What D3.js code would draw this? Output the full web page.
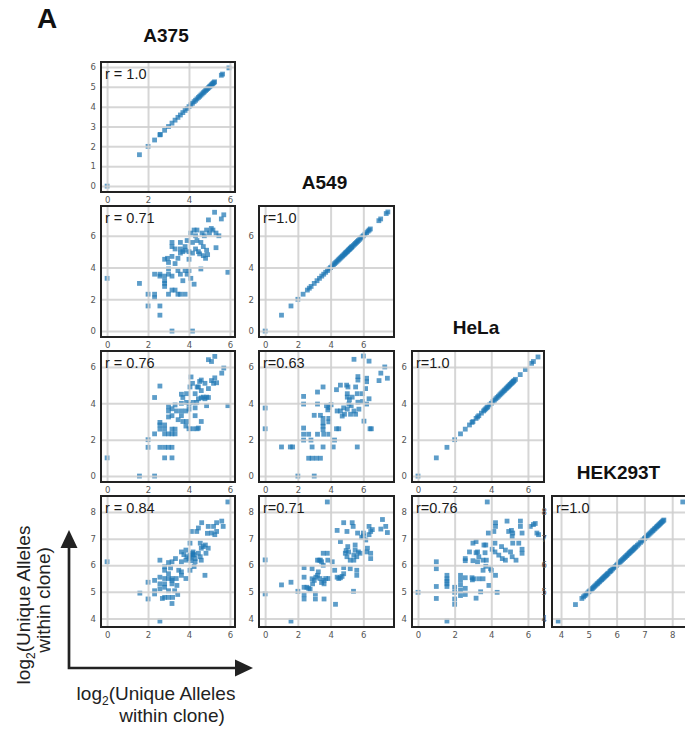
<!DOCTYPE html>
<html><head><meta charset="utf-8">
<script src="https://cdn.jsdelivr.net/npm/d3@7"></script>
<style>body{margin:0;background:#fff} svg{display:block}</style>
</head><body><svg id="c" width="685" height="731"></svg>
<script>
// ---------------- DATA ----------------
const cellLines = ["A375", "A549", "HeLa", "HEK293T"];

// diagonal panels: each clone plotted against itself (log2 unique alleles)
const diag_A375 = [0, 1.58, 2.0, 2.32, 2.58, 2.6, 2.81, 3.0, 3.17, 3.32, 3.46, 3.58, 3.7, 3.81, 3.91, 4.0, 4.09, 4.17, 4.25, 4.32, 4.39, 4.46, 4.52, 4.58, 4.64, 4.7, 4.75, 4.81, 4.86, 4.91, 4.95, 5.0, 5.04, 5.09, 5.13, 5.17, 5.21, 5.25, 5.58, 5.64, 5.95];
const diag_A549 = [0, 1.0, 1.58, 2.0, 2.32, 2.58, 2.7, 2.81, 3.0, 3.17, 3.32, 3.46, 3.58, 3.7, 3.81, 3.91, 4.0, 4.09, 4.17, 4.25, 4.32, 4.39, 4.46, 4.52, 4.58, 4.64, 4.7, 4.75, 4.81, 4.86, 4.91, 4.95, 5.0, 5.04, 5.09, 5.13, 5.17, 5.21, 5.25, 5.29, 5.32, 5.39, 5.46, 5.52, 5.58, 5.64, 5.7, 5.78, 5.86, 5.93, 6.0, 6.1, 6.2, 6.29, 6.36, 6.43, 6.95, 7.06, 7.4, 7.5];
const diag_HeLa = [0, 1.0, 1.58, 2.0, 2.32, 2.58, 2.81, 2.95, 3.0, 3.17, 3.25, 3.32, 3.46, 3.58, 3.64, 3.7, 3.76, 3.81, 3.91, 4.0, 4.09, 4.17, 4.25, 4.32, 4.39, 4.46, 4.52, 4.58, 4.64, 4.7, 4.75, 4.81, 4.86, 4.91, 4.95, 5.0, 5.04, 5.09, 5.13, 5.17, 5.21, 5.25, 5.32, 5.58, 5.86, 6.2, 6.3, 6.55];
const diag_HEK = [3.9, 4.52, 4.75, 4.81, 4.86, 4.91, 4.95, 5.0, 5.04, 5.09, 5.13, 5.17, 5.21, 5.25, 5.29, 5.32, 5.36, 5.39, 5.43, 5.46, 5.49, 5.52, 5.55, 5.58, 5.61, 5.64, 5.67, 5.7, 5.75, 5.78, 5.81, 5.86, 5.91, 5.95, 6.0, 6.04, 6.09, 6.13, 6.17, 6.21, 6.25, 6.29, 6.32, 6.36, 6.39, 6.43, 6.46, 6.49, 6.52, 6.55, 6.58, 6.61, 6.64, 6.67, 6.7, 6.75, 6.8, 6.86, 6.91, 6.95, 7.0, 7.04, 7.09, 7.13, 7.17, 7.21, 7.25, 7.29, 7.32, 7.36, 7.39, 7.43, 7.46, 7.49, 7.52, 7.55, 7.58, 7.61, 7.64, 7.67, 7.7, 8.38];

// off-diagonal panels: [x (column line), y (row line)]
const pts_A549_vs_A375 = [[0,3.32],[1.58,3.0],[2,2.32],[2,1.58],[2.32,2.32],[2.32,2.1],[2.32,3.58],[2.58,1.58],[2.58,1.0],[2.58,3.46],[2.58,3.58],[2.81,3.46],[2.81,3.0],[2.81,2.81],[2.81,3.17],[2.81,4.52],[2.95,4.58],[3.0,2.32],[3.0,3.58],[3.0,3.91],[3.0,4.32],[3.17,4.7],[3.17,5.58],[3.17,5.32],[3.17,3.46],[3.17,2.58],[3.17,0],[3.32,2.58],[3.32,4.25],[3.32,5.17],[3.46,2.32],[3.46,3.81],[3.46,4.58],[3.58,2.32],[3.58,5.58],[3.58,5.17],[3.58,3.58],[3.58,4.91],[3.7,5.0],[3.7,3.17],[3.81,2.32],[3.81,3.81],[3.81,5.32],[3.81,5.09],[3.91,5.7],[3.91,3.58],[4.0,4.52],[4.0,3.81],[4.0,5.0],[4.09,6.17],[4.09,3.32],[4.17,5.58],[4.17,4.91],[4.17,0],[4.25,6.36],[4.25,2.95],[4.32,5.17],[4.32,6.0],[4.39,6.36],[4.39,5.7],[4.46,5.0],[4.52,4.86],[4.58,3.91],[4.58,5.58],[4.64,6.17],[4.7,4.75],[4.7,5.32],[4.75,6.0],[4.81,4.58],[4.86,6.36],[4.86,5.09],[4.91,4.81],[4.95,7.0],[5.0,6.17],[5.09,6.46],[5.17,6.36],[5.25,7.48],[5.32,5.25],[5.32,6.17],[5.46,6.0],[5.58,7.06],[5.7,7.32],[5.9,3.7]];
const pts_HeLa_vs_A375 = [[0,1.0],[1.58,0],[2.32,0],[2,2.0],[2,1.58],[2.32,2.32],[2.32,4.32],[2.58,4.95],[2.58,2.81],[2.58,2.58],[2.58,2.95],[2.58,1.58],[2.81,2.81],[2.81,2.58],[2.81,2.32],[2.81,1.58],[2.81,1.0],[3.0,3.81],[3.0,3.58],[3.0,3.25],[3.0,2.32],[3.0,1.58],[3.17,1.58],[3.17,1.0],[3.17,2.58],[3.17,2.32],[3.17,3.7],[3.17,3.32],[3.32,2.58],[3.32,2.32],[3.32,3.91],[3.63,4.5],[3.63,3.58],[3.63,3.32],[3.7,4.32],[3.88,4.05],[3.88,3.0],[3.85,2.75],[4.0,3.95],[4.0,2.6],[4.1,5.45],[4.17,5.1],[4.3,3.75],[4.3,3.32],[4.4,2.6],[4.4,4.9],[4.52,5.2],[4.6,4.7],[4.6,4.3],[4.6,3.0],[4.78,4.25],[4.95,4.32],[4.86,3.87],[5.1,5.25],[5.2,5.1],[5.35,5.13],[5.26,5.4],[4.95,6.4],[5.1,6.3],[5.26,6.58],[5.6,5.66],[5.7,5.94],[5.9,3.87],[3.63,4.0],[3.85,3.58],[4.0,3.68],[4.2,4.05],[4.38,4.05],[4.46,4.25],[4.7,4.34],[4.86,4.34],[4.3,4.53],[4.46,4.9],[4.6,5.28],[4.78,5.1],[4.95,4.81],[4.05,4.9],[3.88,4.53],[3.47,3.1],[3.39,3.58],[3.7,3.0],[4.2,2.6],[4.46,2.64]];
const pts_HeLa_vs_A549 = [[0,3.74],[0,2.6],[1.0,1.6],[1.54,1.6],[1.68,1.6],[2.0,0],[3.0,0],[2.35,4.38],[2.35,3.96],[2.35,2.64],[2.35,2.3],[2.35,1.98],[2.66,2.3],[2.8,1.98],[2.87,1.6],[2.66,0.98],[2.87,0.98],[3.13,0.98],[3.38,0.98],[3.2,4.62],[3.54,4.9],[3.2,3.96],[3.0,3.34],[3.38,3.34],[3.54,3.17],[3.54,2.92],[3.54,2.74],[3.54,2.55],[3.89,3.17],[3.89,2.98],[3.2,2.3],[3.58,2.3],[3.89,2.3],[3.54,1.6],[4.16,1.6],[3.75,3.87],[3.89,3.77],[3.83,3.64],[4.03,3.92],[4.24,1.98],[4.36,4.75],[4.4,3.58],[4.5,2.6],[4.36,2.6],[4.6,5.0],[4.98,5.0],[5.06,4.9],[4.6,3.58],[4.71,3.3],[4.85,3.4],[5.02,4.53],[5.02,4.34],[5.12,3.96],[5.02,3.68],[5.26,3.87],[5.22,3.4],[5.43,6.42],[5.67,5.47],[5.67,5.28],[5.53,4.9],[5.63,4.53],[5.67,4.06],[5.53,3.4],[5.43,3.58],[5.73,3.68],[5.63,1.6],[6.0,6.6],[6.14,4.81],[6.2,5.38],[6.2,5.19],[6.35,6.32],[6.35,4.25],[6.2,3.96],[6.41,2.6],[6.49,2.6],[6.04,3.02],[6.96,5.25],[7.07,5.66],[7.31,6.0],[7.47,5.38],[5.94,4.53],[5.32,4.34],[5.15,4.2],[4.8,3.75],[5.95,4.1]];
const pts_HEK_vs_A375 = [[0,6.13],[1.6,4.95],[2,5.36],[2,4.73],[2.32,5.43],[2.32,5.04],[2.32,4.92],[2.58,6.19],[2.58,5.55],[2.58,5.3],[2.58,5.11],[2.58,3.9],[2.81,5.94],[2.81,5.81],[2.81,5.5],[2.81,5.3],[2.81,5.17],[2.81,4.79],[3.0,6.1],[3.0,5.68],[3.0,5.5],[3.0,4.79],[3.0,5.04],[3.17,6.13],[3.17,5.5],[3.17,5.43],[3.17,5.3],[3.17,4.56],[3.34,6.25],[3.38,5.5],[3.41,5.24],[3.3,5.04],[3.63,6.5],[3.63,6.13],[3.63,5.75],[3.63,5.62],[3.85,6.57],[3.85,6.19],[3.85,5.5],[4.05,6.83],[4.05,6.38],[4.05,5.81],[4.12,7.27],[4.2,6.5],[4.2,6.38],[4.3,6.25],[4.3,6.13],[4.38,7.27],[4.46,7.4],[4.55,6.83],[4.55,6.32],[4.6,6.64],[4.6,6.19],[4.62,7.6],[4.78,5.62],[4.83,6.45],[4.94,6.64],[4.94,7.46],[5.1,7.21],[5.2,7.46],[5.26,7.15],[5.35,7.6],[5.35,7.27],[5.6,7.66],[5.67,7.46],[5.9,8.38],[4.1,6.3],[4.17,6.45],[4.25,6.4],[4.0,6.25],[4.1,6.17],[3.9,6.32],[3.75,6.4],[4.46,6.45],[4.7,6.7],[4.8,6.76],[4.9,7.2],[4.25,5.95],[3.5,5.81],[3.1,5.9],[3.45,4.9],[3.2,4.79],[2.7,4.75]];
const pts_HEK_vs_A549 = [[0,6.2],[0,4.92],[1.0,5.26],[1.58,5.36],[1.58,3.9],[2.0,5.02],[2.38,5.91],[2.38,5.55],[2.38,5.17],[2.38,4.89],[2.38,4.73],[2.55,5.17],[2.66,5.13],[2.75,5.1],[2.87,5.87],[2.87,5.49],[3.0,5.43],[3.07,4.92],[3.07,4.73],[3.2,6.19],[3.2,5.62],[3.38,6.19],[3.55,6.45],[3.8,6.45],[3.83,6.19],[3.6,5.3],[3.6,5.43],[3.6,4.73],[3.8,8.38],[3.7,5.5],[3.9,5.5],[4.1,6.13],[4.3,4.53],[4.25,5.81],[4.4,5.55],[4.5,5.5],[4.6,5.53],[4.7,5.58],[4.8,5.68],[4.4,7.31],[4.8,7.6],[4.6,6.89],[5.1,6.5],[4.9,6.45],[4.8,5.91],[5.2,5.87],[5.2,6.19],[5.0,6.32],[5.0,7.27],[5.32,7.6],[5.38,7.46],[5.42,6.19],[5.42,6.38],[5.5,6.57],[5.65,7.21],[5.6,6.32],[5.4,5.02],[5.6,5.81],[5.6,5.62],[5.5,6.76],[5.7,6.5],[5.8,6.45],[6.0,7.21],[6.15,6.95],[6.25,6.64],[6.35,7.15],[6.2,6.5],[6.45,6.25],[6.45,6.45],[6.35,7.46],[6.45,7.27],[6.55,7.34],[7.07,7.36],[7.17,7.72],[7.37,7.46],[7.47,7.23],[3.3,6.19],[3.45,6.13],[3.55,6.0],[3.25,5.75],[2.9,5.3],[3.1,5.55],[3.35,5.5],[3.45,5.35],[5.05,6.7],[4.95,6.55],[5.9,7.05],[6.0,7.1]];
const pts_HEK_vs_HeLa = [[0,4.98],[1,6.13],[1,5.87],[1,5.2],[1,4.75],[1.58,5.62],[1.58,5.49],[1.58,5.4],[1.58,5.3],[1.58,5.2],[1.58,3.9],[2,5.17],[2,4.98],[2,4.73],[2,4.53],[2.32,5.62],[2.32,5.45],[2.32,5.27],[2.32,5.07],[2.32,4.86],[2.58,6.25],[2.58,6.17],[2.58,5.53],[2.58,5.13],[2.58,4.9],[2.81,6.5],[2.95,5.53],[3.0,6.17],[3.05,5.49],[3.17,4.76],[3.0,6.83],[3.17,6.89],[3.17,6.47],[3.32,6.32],[3.25,6.13],[3.42,5.0],[3.32,5.49],[3.55,5.49],[3.6,6.76],[3.7,6.76],[3.66,6.47],[3.73,6.19],[3.55,6.19],[3.7,5.96],[3.96,5.87],[4.0,5.81],[3.78,8.38],[3.87,5.24],[3.84,7.21],[4.14,7.27],[4.23,7.6],[4.23,7.46],[4.2,6.83],[4.2,6.5],[4.23,5.62],[4.32,4.98],[4.41,6.38],[4.56,6.7],[4.6,6.25],[4.77,6.57],[4.86,7.66],[4.95,7.27],[5.1,7.31],[5.14,6.32],[5.14,7.08],[5.17,6.83],[5.05,6.5],[5.17,7.21],[5.59,7.66],[5.59,7.46],[5.68,7.21],[5.5,6.83],[5.68,6.6],[5.68,6.45],[5.35,6.19],[6.13,7.46],[6.3,7.53],[6.4,7.57],[6.49,7.21],[6.58,7.15],[4.77,6.19],[4.05,6.6],[3.55,5.81],[3.25,6.5],[2.97,5.45]];

// correlation labels per row / column
const rLabels = [["r = 1.0"], ["r = 0.71", "r=1.0"], ["r = 0.76", "r=0.63", "r=1.0"], ["r = 0.84", "r=0.71", "r=0.76", "r=1.0"]];
const tickVals = [[0, 2, 4, 6], [0, 2, 4, 6], [0, 2, 4, 6], [4, 5, 6, 7, 8]];
const rowOneYTicks = [0, 1, 2, 3, 4, 5, 6];
const axisLabelLine1 = "(Unique Alleles";
const axisLabelLine2 = "within clone)";

// ---------------- LAYOUT ----------------
const diag = [diag_A375, diag_A549, diag_HeLa, diag_HEK];
const offPts = {"1,0": pts_A549_vs_A375, "2,0": pts_HeLa_vs_A375, "2,1": pts_HeLa_vs_A549,
                "3,0": pts_HEK_vs_A375, "3,1": pts_HEK_vs_A549, "3,2": pts_HEK_vs_HeLa};
const colX = [101, 259, 412, 552], colW = [134, 135, 132, 137];
const rowY = [62, 206, 351, 496], rowH = [130, 131, 131, 131];
const FONT = "'Liberation Sans', Arial, Helvetica, sans-serif";

const domains = diag.map(v => {
  const [lo, hi] = d3.extent(v); const p = (hi - lo) * 0.05; return [lo - p, hi + p];
});

const svg = d3.select("#c");
svg.append("rect").attr("width", 685).attr("height", 731).attr("fill", "#fff");

for (let i = 0; i < 4; i++) {
  for (let j = 0; j <= i; j++) {
    const w = colW[j], h = rowH[i];
    const xs = d3.scaleLinear().domain(domains[j]).range([0, w]);
    const ys = d3.scaleLinear().domain(domains[i]).range([h, 0]);
    const g = svg.append("g").attr("transform", `translate(${colX[j]},${rowY[i]})`);
    g.append("rect").attr("width", w).attr("height", h).attr("fill", "#fff");
    const data = i === j ? diag[i].map(v => [v, v]) : offPts[`${i},${j}`];
    g.append("g").selectAll("rect").data(data).join("rect")
      .attr("x", d => xs(d[0]) - 2.4).attr("y", d => ys(d[1]) - 2.4)
      .attr("width", 4.8).attr("height", 4.8)
      .attr("fill", "#1f77b4").attr("fill-opacity", 0.72);
    const xt = tickVals[j], yt = i === 0 ? rowOneYTicks : tickVals[i];
    // grid
    const gx = g.append("g").attr("transform", `translate(0,${h})`)
      .call(d3.axisBottom(xs).tickValues(xt).tickSize(-h).tickFormat(""));
    const gy = g.append("g").call(d3.axisLeft(ys).tickValues(yt).tickSize(-w).tickFormat(""));
    [gx, gy].forEach(a => { a.select(".domain").remove();
      a.selectAll("line").attr("stroke", "#cfcfcf").attr("stroke-width", 2).attr("stroke-opacity", 0.85); });
    // frame
    g.append("rect").attr("width", w).attr("height", h).attr("fill", "none")
      .attr("stroke", "#222").attr("stroke-width", 2);
    // tick labels
    const ax = g.append("g").attr("transform", `translate(0,${h})`)
      .call(d3.axisBottom(xs).tickValues(xt).tickSize(0).tickPadding(5).tickFormat(d3.format("d")));
    const ay = g.append("g").call(d3.axisLeft(ys).tickValues(yt).tickSize(0).tickPadding(5).tickFormat(d3.format("d")));
    [ax, ay].forEach(a => { a.select(".domain").remove();
      a.selectAll("text").attr("font-family", "'DejaVu Sans', sans-serif").attr("font-size", 8.5).attr("fill", "#555"); });
    // r label
    g.append("text").attr("x", 4).attr("y", 17).attr("font-family", FONT)
      .attr("font-size", 14.5).attr("fill", "#1a1a1a").text(rLabels[i][j]);
    // title above diagonal
    if (i === j) {
      svg.append("text").attr("x", colX[j] + w / 2 - 2).attr("y", rowY[i] - (i === 0 ? 20 : 17))
        .attr("text-anchor", "middle").attr("font-family", FONT).attr("font-weight", "bold")
        .attr("font-size", 19).attr("fill", "#111").text(cellLines[i]);
    }
  }
}

// panel letter
svg.append("text").attr("x", 37).attr("y", 28).attr("font-family", FONT).attr("font-weight", "bold")
  .attr("font-size", 28).attr("fill", "#111").text("A");

// axis arrows
const arrow = svg.append("g").attr("fill", "#222").attr("stroke", "#222");
arrow.append("path").attr("d", "M69,669.3 L69,546 M67.7,668 L236,668").attr("stroke-width", 2.7).attr("fill", "none");
arrow.append("path").attr("d", "M69,530 L77.5,548 L60.5,548 Z").attr("stroke", "none");
arrow.append("path").attr("d", "M253,668 L235,659.5 L235,676.5 Z").attr("stroke", "none");

// axis labels
function labelLine1(sel) {
  sel.append("tspan").text("log");
  sel.append("tspan").attr("font-size", 12).attr("dy", 5).text("2");
  sel.append("tspan").attr("dy", -5).text(axisLabelLine1);
}
const yl1 = svg.append("text").attr("transform", "translate(30,605) rotate(-90)")
  .attr("text-anchor", "middle").attr("font-family", FONT).attr("font-size", 19).attr("fill", "#222");
labelLine1(yl1);
svg.append("text").attr("transform", "translate(50,600) rotate(-90)")
  .attr("text-anchor", "middle").attr("font-family", FONT).attr("font-size", 19).attr("fill", "#222").text(axisLabelLine2);
const xl1 = svg.append("text").attr("x", 156).attr("y", 700)
  .attr("text-anchor", "middle").attr("font-family", FONT).attr("font-size", 19).attr("fill", "#222");
labelLine1(xl1);
svg.append("text").attr("x", 172).attr("y", 722)
  .attr("text-anchor", "middle").attr("font-family", FONT).attr("font-size", 19).attr("fill", "#222").text(axisLabelLine2);
</script>
</body></html>
